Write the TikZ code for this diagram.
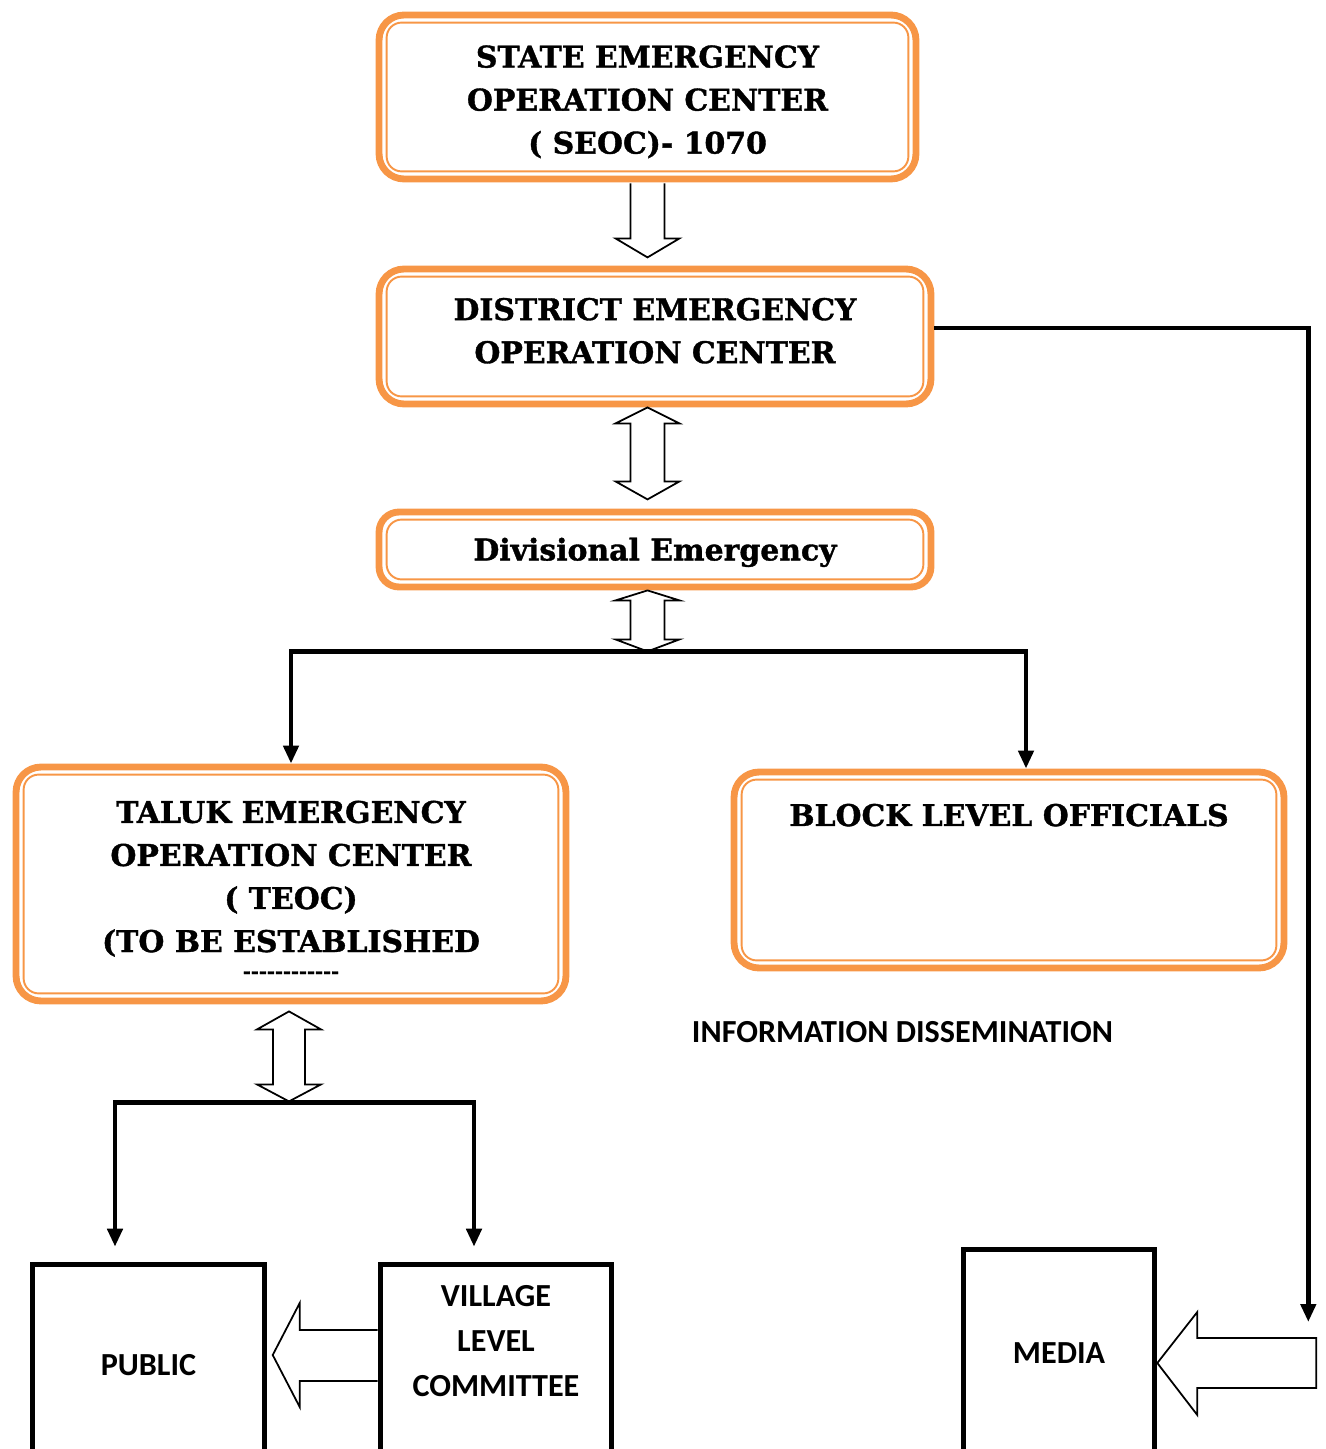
\documentclass[tikz,border=0pt]{standalone}
\usepackage{fontspec}
\setmainfont{DejaVu Serif}[BoldFeatures={FakeBold=1.2}]
\newfontfamily\calibri{Carlito}
\usetikzlibrary{arrows.meta, calc}
\definecolor{eocorange}{RGB}{247,150,70}
\tikzset{
  eoc/.style={draw=eocorange, line width=3.9pt, rounded corners=0.5cm, align=center, inner sep=0pt,
    font=\bfseries\fontsize{17}{24.5}\selectfont},
  eocin/.style={draw=eocorange, line width=1.1pt, rounded corners=0.3cm},
  sqbox/.style={draw, line width=3.2pt, align=center, inner sep=0pt,
    font=\calibri\bfseries\fontsize{18.3}{25.6}\selectfont},
  conn/.style={line width=2.7pt},
  tip/.style={conn, -{Triangle[length=0.36cm, width=0.3cm]}},
  hollow/.style={draw, fill=white, line width=1pt}
}

\begin{document}
\begin{tikzpicture}[x=0.02cm, y=-0.02cm]
  \useasboundingbox (0,0) rectangle (1325,1449);
  \clip (0,0) rectangle (1325,1449);

  % operation centres
  \node[eoc, minimum width=10.74cm, minimum height=3.28cm] (seoc) at (647.5,97)
    {\rule{0pt}{18.1pt}STATE EMERGENCY\\OPERATION CENTER\\( SEOC)- 1070};
  \node[eoc, minimum width=11.04cm, minimum height=2.70cm, text depth=6.8pt] (deoc) at (655,336.5)
    {DISTRICT EMERGENCY\\OPERATION CENTER};
  \node[eoc, rounded corners=0.4cm, minimum width=11.04cm, minimum height=1.50cm, text depth=0.5pt] (divn) at (655,549.5)
    {Divisional Emergency};
  \node[eoc, minimum width=11.0cm, minimum height=4.68cm] (teoc) at (291,884)
    {\rule{0pt}{18.7pt}TALUK EMERGENCY\\OPERATION CENTER\\( TEOC)\\(TO BE ESTABLISHED\\[-9.7pt]{\fontsize{11}{12}\selectfont -{}-{}-{}-{}-{}-{}-{}-{}-{}-{}-{}-}};
  \node[eoc, minimum width=11.0cm, minimum height=3.92cm, text height=30.7pt, text depth=80.8pt] (block) at (1009,870)
    {BLOCK LEVEL OFFICIALS};
  \foreach \n in {seoc,deoc,divn,teoc,block}
    \draw[eocin] ($(\n.north west)+(11,11)$) rectangle ($(\n.south east)+(-11,-11)$);

  % bottom row
  \node[sqbox, minimum width=4.64cm, minimum height=4.02cm] (public) at (148.5,1365) {PUBLIC};
  \node[sqbox, minimum width=4.62cm, minimum height=3.96cm] (village) at (496,1363.5)
    {VILLAGE\\LEVEL\\COMMITTEE\\ };
  \node[sqbox, minimum width=3.82cm, minimum height=4.14cm] (media) at (1059,1353) {MEDIA};
  \node[font=\calibri\bfseries\fontsize{18.3}{20}\selectfont] (info) at (902.5,1032)
    {INFORMATION DISSEMINATION};

  % hollow arrows
  \draw[hollow, shift={(seoc.south)}] (-17,1) -- (-17,56) -- (-32,56) -- (0,75) -- (32,56) -- (17,56) -- (17,1);
  \draw[hollow, shift={(deoc.south -| seoc.south)}] (0,0) -- (32,16) -- (17,16) -- (17,74) -- (32,74) -- (0,92)
    -- (-32,74) -- (-17,74) -- (-17,16) -- (-32,16) -- cycle;
  \draw[hollow, shift={(divn.south -| seoc.south)}] (0,0) -- (32,10) -- (17,10) -- (17,49) -- (32,49) -- (0,61)
    -- (-32,49) -- (-17,49) -- (-17,10) -- (-32,10) -- cycle;
  \draw[hollow, shift={(teoc.south)}] (-2,7) -- (30,25) -- (14,25) -- (14,80) -- (30,80) -- (-2,97)
    -- (-34,80) -- (-18,80) -- (-18,25) -- (-34,25) -- cycle;
  \draw[hollow, shift={(village.west)}] (0,-33.5) -- (-78,-33.5) -- (-78,-60.5) -- (-105,-8.5) -- (-78,43.5)
    -- (-78,17.5) -- (0,17.5);
  \draw[hollow, shift={(media.east)}] (0,10) -- (40,-41) -- (40,-15) -- (159,-15) -- (159,35) -- (40,35)
    -- (40,62) -- cycle;

  % connectors
  \coordinate (dsplit) at ($(divn.south)+(0,61)$);
  \coordinate (tsplit) at ($(teoc.south)+(0,98)$);
  \coordinate (pubin) at ($(public.north)+(-33.5,-15)$);
  \coordinate (vilin) at ($(village.north)+(-22,-15)$);
  \coordinate (mediain) at ($(media.east)+(151,-31)$);
  \draw[tip] (dsplit) -| (teoc.north);
  \draw[tip] (dsplit) -| ([xshift=0.34cm]block.north);
  \draw[tip] (tsplit) -| (pubin);
  \draw[tip] (tsplit) -| (vilin);
  \draw[tip] ([yshift=0.17cm]deoc.east) -| (mediain);
\end{tikzpicture}
\end{document}
